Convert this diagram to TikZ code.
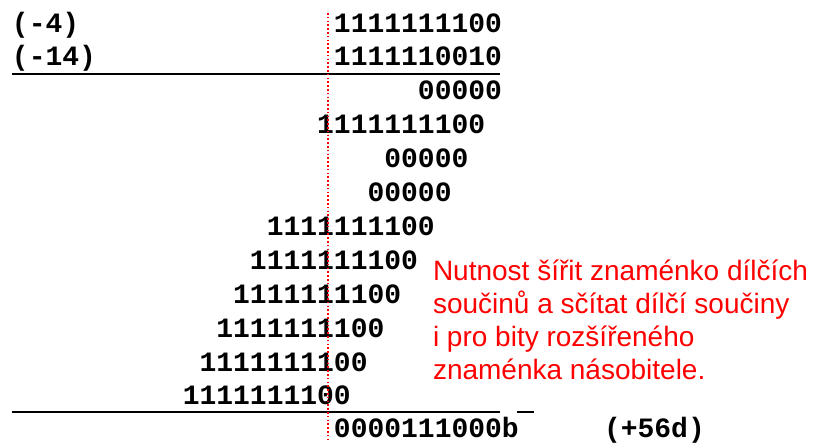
\documentclass[tikz,border=0pt]{standalone}
\usepackage{fontspec}
\setmainfont{Liberation Sans}
\newfontfamily\monob{Liberation Mono}
\begin{document}
\begin{tikzpicture}[x=1pt,y=-1pt,
  num/.style={font=\monob\bfseries\fontsize{28}{28}\selectfont, inner sep=0pt, outer sep=0pt, anchor=base east},
  lab/.style={num, anchor=base west},
  note/.style={font=\fontsize{28}{33}\selectfont, text=red, inner sep=0pt, outer sep=0pt, anchor=base west},
  rule/.style={line width=2.4pt, black},
  guide/.style={red, line width=1.6pt, dash pattern=on 1.6pt off 2.2pt}]
\useasboundingbox (0,0) rectangle (824,447);
\def\R{502}
\def\cw{16.8}
\def\dy{33.9}
% operands
\node[lab] (la) at (12,32) {(-4)};
\node[lab] (lb) at (12,65.9) {(-14)};
\node[num] (a) at (\R,32) {1111111100};
\node[num] (b) at (\R,65.9) {1111110010};
\coordinate (l1a) at (12,74);
\coordinate (l1b) at (500,74);
\draw[rule] (l1a) -- (l1b);
% partial products
\node[num] (p0) at (\R,{32+2*\dy}) {00000};
\node[num] (p1) at ({\R-1*\cw},{32+3*\dy}) {1111111100};
\node[num] (p2) at ({\R-2*\cw},{32+4*\dy}) {00000};
\node[num] (p3) at ({\R-3*\cw},{32+5*\dy}) {00000};
\node[num] (p4) at ({\R-4*\cw},{32+6*\dy}) {1111111100};
\node[num] (p5) at ({\R-5*\cw},{32+7*\dy}) {1111111100};
\node[num] (p6) at ({\R-6*\cw},{32+8*\dy}) {1111111100};
\node[num] (p7) at ({\R-7*\cw},{32+9*\dy}) {1111111100};
\node[num] (p8) at ({\R-8*\cw},{32+10*\dy}) {1111111100};
\node[num] (p9) at ({\R-9*\cw},{32+11*\dy}) {1111111100};
\coordinate (l2a) at (12,412);
\coordinate (l2b) at (500,412);
\draw[rule] (l2a) -- (l2b);
\coordinate (m1) at (517,412);
\coordinate (m2) at (534,412);
\draw[rule] (m1) -- (m2);
% result
\node[num] (res) at ({\R+\cw},437) {0000111000b};
\node[lab] (dec) at (604,437) {(+56d)};
% guide line
\coordinate (g1) at (328,13);
\coordinate (g2) at (328,442);
\draw[guide] (g1) -- (g2);
% note
\node[note] (n1) at (433,280) {Nutnost šířit znaménko dílčích};
\node[note] (n2) at (433,313.3) {součinů a sčítat dílčí součiny};
\node[note] (n3) at (433,346.6) {i pro bity rozšířeného};
\node[note] (n4) at (433,379.9) {znaménka násobitele.};
\end{tikzpicture}
\end{document}
